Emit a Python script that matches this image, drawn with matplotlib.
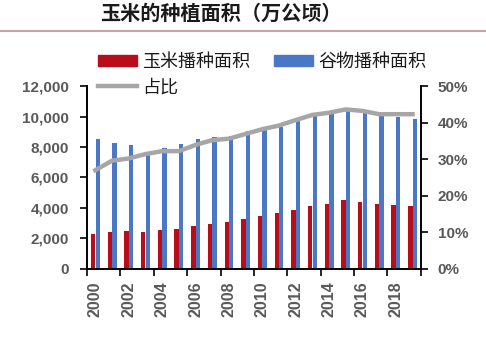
import numpy as np
import matplotlib.pyplot as plt
from matplotlib.lines import Line2D
from matplotlib.patches import Patch

# 播种面积（万公顷）与玉米占比（%）
years = list(range(2000, 2020))
corn_area = [2300, 2420, 2460, 2400, 2540, 2610, 2840, 2970, 3080, 3300,
             3500, 3650, 3890, 4110, 4280, 4500, 4420, 4240, 4220, 4130]
grain_area = [8520, 8280, 8150, 7700, 7910, 8200, 8500, 8630, 8740, 9030,
              9100, 9290, 9770, 10030, 10200, 10400, 10250, 10100, 9990, 9810]
corn_share = [27.0, 29.6, 30.2, 31.4, 32.2, 32.2, 33.9, 35.2, 35.6, 36.9,
              38.2, 39.2, 40.7, 42.1, 42.7, 43.6, 43.2, 42.3, 42.3, 42.3]

plt.rcParams['font.family'] = ['Noto Sans CJK SC', 'DejaVu Sans']

red = '#B80E1C'
blue = '#4A78C6'
grey = '#A6A6A6'
tick_font = dict(fontfamily='Liberation Sans', fontweight='bold',
                 fontsize=11, color='#595959')

fig = plt.figure(figsize=(4.86, 3.4), dpi=100)
ax = fig.add_axes([0.179, 0.209, 0.687, 0.538])

x = np.arange(len(years))
ax.bar(x - 0.13, corn_area, width=0.26, color=red)
ax.bar(x + 0.14, grain_area, width=0.26, color=blue)

ax.set_xlim(-0.5, len(years) - 0.5)
ax.set_ylim(0, 12000)
yt = list(range(0, 12001, 2000))
ax.set_yticks(yt, [f'{v:,}' for v in yt], **tick_font)
ax.set_xticks(np.arange(-0.5, len(years), 2), [])
ax.set_xticks(x[::2], [str(y) for y in years[::2]], minor=True,
              rotation=90, **{**tick_font, 'fontsize': 11.5})
ax.tick_params(axis='x', which='minor', length=0, pad=9)
ax.tick_params(axis='x', which='major', length=5, width=1.2, direction='out')
ax.tick_params(axis='y', length=5, width=1.2, pad=8)
ax.spines['top'].set_visible(False)
for s in ax.spines.values():
    s.set_linewidth(1.2)

ax2 = ax.twinx()
ax2.plot(x, corn_share, color=grey, lw=3.2)
ax2.set_ylim(0, 50)
rt = list(range(0, 51, 10))
ax2.set_yticks(rt, [f'{v}%' for v in rt], **tick_font)
ax2.tick_params(axis='y', length=5, width=1.2, pad=7)
ax2.spines['top'].set_visible(False)
for s in ax2.spines.values():
    s.set_linewidth(1.2)

# 标题与分隔线
fig.text(100 / 486, 1 - 13 / 340, '玉米的种植面积（万公顷）', fontsize=14.5,
         fontweight='bold', color='#1a1a1a', va='center', ha='left')
fig.add_artist(Line2D([0, 1], [1 - 31 / 340] * 2, color='#C9A3A3', lw=1.5,
                      transform=fig.transFigure))

handles = [Patch(color=red), Line2D([], [], color=grey, lw=3.2), Patch(color=blue)]
labels = ['玉米播种面积', '占比', '谷物播种面积']
fig.legend(handles, labels, ncol=2, frameon=False, fontsize=13,
           loc='upper left', bbox_to_anchor=(98 / 486, 1 - 53 / 340),
           borderpad=0, borderaxespad=0, handlelength=2.15, handleheight=0.55,
           handletextpad=0.3, columnspacing=1.3, labelspacing=0.4,
           labelcolor='#1a1a1a')

fig.savefig('out.png', dpi=100)
